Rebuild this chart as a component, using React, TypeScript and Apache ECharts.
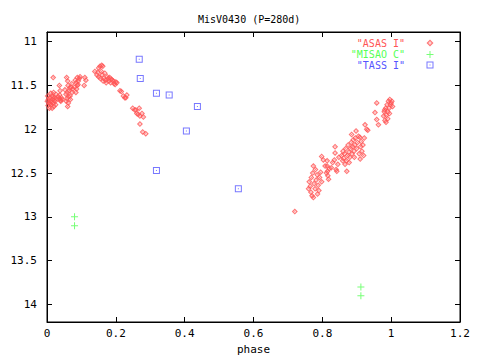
import React, { useEffect, useRef } from "react";
import * as echarts from "echarts";

const titleText = "MisV0430 (P=280d)";
const yTicks = [11, 11.5, 12, 12.5, 13, 13.5, 14];

const asasName = '"ASAS I"';
const misaoName = '"MISAO C"';
const tassName = '"TASS I"';

const asas: [number, number][] = [
  [0.002, 11.62], [0.004, 11.66], [0.006, 11.7], [0.003, 11.73], [0.008, 11.64],
  [0.01, 11.68], [0.012, 11.72], [0.014, 11.62], [0.016, 11.66], [0.018, 11.7],
  [0.02, 11.74], [0.022, 11.64], [0.024, 11.68], [0.026, 11.6], [0.028, 11.65],
  [0.007, 11.76], [0.015, 11.76], [0.011, 11.59], [0.019, 11.58], [0.025, 11.72],
  [0.001, 11.68], [0.013, 11.69], [0.017, 11.63], [0.021, 11.67], [0.009, 11.71],
  [0.018, 11.41], [0.036, 11.5], [0.038, 11.56],
  [0.033, 11.63], [0.036, 11.65], [0.039, 11.67], [0.042, 11.64], [0.037, 11.61],
  [0.04, 11.68], [0.044, 11.66],
  [0.057, 11.41], [0.06, 11.45], [0.052, 11.55], [0.055, 11.6], [0.058, 11.65],
  [0.061, 11.5], [0.064, 11.56], [0.067, 11.62], [0.07, 11.52], [0.073, 11.58],
  [0.056, 11.68], [0.062, 11.7], [0.068, 11.66], [0.072, 11.48], [0.075, 11.54],
  [0.059, 11.58], [0.066, 11.53], [0.063, 11.63], [0.06, 11.74],
  [0.088, 11.41], [0.082, 11.44], [0.085, 11.47], [0.088, 11.5], [0.091, 11.45],
  [0.094, 11.42], [0.08, 11.52], [0.086, 11.54], [0.09, 11.49], [0.096, 11.4],
  [0.084, 11.58],
  [0.11, 11.41], [0.113, 11.44], [0.108, 11.5],
  [0.139, 11.34], [0.15, 11.3], [0.154, 11.28], [0.159, 11.27], [0.162, 11.28],
  [0.145, 11.38], [0.15, 11.4], [0.155, 11.42], [0.16, 11.38], [0.165, 11.42],
  [0.17, 11.44], [0.175, 11.4], [0.18, 11.45], [0.185, 11.47], [0.19, 11.44],
  [0.195, 11.48], [0.2, 11.46], [0.148, 11.35], [0.158, 11.34], [0.168, 11.36],
  [0.178, 11.42], [0.172, 11.47], [0.182, 11.41], [0.187, 11.43], [0.193, 11.45],
  [0.198, 11.49], [0.203, 11.47], [0.163, 11.45],
  [0.212, 11.56], [0.216, 11.57], [0.222, 11.62], [0.226, 11.64], [0.229, 11.64],
  [0.232, 11.61],
  [0.249, 11.76], [0.255, 11.78], [0.258, 11.78], [0.261, 11.82], [0.265, 11.83],
  [0.27, 11.85], [0.268, 11.76], [0.276, 11.82], [0.28, 11.86], [0.27, 11.94],
  [0.278, 12.03], [0.287, 12.05],
  [0.72, 12.94],
  [0.762, 12.6], [0.765, 12.65], [0.767, 12.72], [0.77, 12.76], [0.774, 12.78],
  [0.768, 12.55], [0.772, 12.5], [0.776, 12.62], [0.779, 12.68], [0.774, 12.42],
  [0.782, 12.58], [0.785, 12.52], [0.788, 12.64], [0.792, 12.55], [0.795, 12.49],
  [0.78, 12.46], [0.79, 12.7], [0.76, 12.68], [0.786, 12.74], [0.798, 12.6],
  [0.798, 12.31], [0.803, 12.35], [0.808, 12.42], [0.814, 12.36], [0.814, 12.42],
  [0.815, 12.48], [0.816, 12.53], [0.818, 12.57], [0.812, 12.5], [0.82, 12.45],
  [0.826, 12.44], [0.83, 12.38], [0.835, 12.35], [0.837, 12.2], [0.837, 12.27],
  [0.84, 12.46], [0.842, 12.48], [0.845, 12.4], [0.848, 12.32],
  [0.856, 12.3], [0.86, 12.25], [0.862, 12.33], [0.865, 12.28], [0.868, 12.22],
  [0.87, 12.36], [0.871, 12.48], [0.873, 12.3], [0.875, 12.18], [0.877, 12.26],
  [0.88, 12.32], [0.882, 12.22], [0.884, 12.15], [0.886, 12.28], [0.888, 12.2],
  [0.89, 12.12], [0.892, 12.25], [0.894, 12.18], [0.896, 12.1], [0.898, 12.02],
  [0.9, 12.22], [0.902, 12.15], [0.905, 12.08], [0.907, 12.28], [0.909, 12.09],
  [0.911, 12.2], [0.913, 12.14], [0.915, 12.25], [0.918, 12.18], [0.92, 12.3],
  [0.878, 12.38], [0.866, 12.4], [0.859, 12.36], [0.893, 12.32], [0.885, 12.06],
  [0.91, 12.34], [0.922, 12.1],
  [0.924, 11.95], [0.929, 12.0], [0.932, 12.01], [0.953, 11.81], [0.958, 11.7],
  [0.958, 11.89], [0.963, 11.95],
  [0.978, 11.85], [0.98, 11.8], [0.982, 11.9], [0.984, 11.76], [0.986, 11.84],
  [0.988, 11.72], [0.99, 11.8], [0.992, 11.68], [0.994, 11.76], [0.996, 11.66],
  [0.998, 11.72], [1.0, 11.7], [1.002, 11.68], [0.985, 11.92], [0.99, 11.88],
  [0.995, 11.82], [1.004, 11.74], [0.981, 11.78],
];

const misao: [number, number][] = [
  [0.08, 13.0], [0.08, 13.1], [0.912, 13.8], [0.912, 13.9],
];

const tass: [number, number][] = [
  [0.268, 11.2], [0.271, 11.42], [0.318, 11.59], [0.355, 11.61],
  [0.437, 11.74], [0.405, 12.02], [0.318, 12.47], [0.556, 12.68],
];

const RED = "#ff5555";
const GREEN = "#55ff55";
const BLUE = "#5555ff";
const MONO = "'DejaVu Sans Mono', monospace";

const diamondSym = "path://M3,0L6,3L3,6L0,3Z M3,1.6L1.6,3L3,4.4L4.4,3Z M3,2.3L3.7,3L3,3.7L2.3,3Z";
const plusSym = "path://M3,0h1v3h3v1h-3v3h-1v-3h-3v-1h3z";
const squareSym = "path://M0,0h7v7h-7z M1,1v5h5v-5z M3,3h1v1h-1z";

export default function App() {
  const ref = useRef<HTMLDivElement>(null);
  useEffect(() => {
    if (!ref.current) return;
    const chart = echarts.init(ref.current, undefined, { renderer: "svg" });
    const tickCommon = { show: true, inside: true, length: 5, lineStyle: { color: "#000", width: 1 } };
    const legendBase = {
      orient: "vertical",
      align: "right",
      right: 41.5,
      itemWidth: 7,
      itemHeight: 7,
      symbolKeepAspect: true,
      textStyle: { fontFamily: MONO, fontSize: 10, padding: [0, 16.5, 0, 0] },
    };
    chart.setOption({
      animation: false,
      backgroundColor: "#fff",
      title: {
        text: titleText,
        left: 193,
        top: 9,
        textStyle: { fontFamily: MONO, fontSize: 10, fontWeight: "normal", color: "#000" },
      },
      legend: [
        { ...legendBase, top: 33, data: [{ name: asasName, textStyle: { color: RED } }] },
        { ...legendBase, top: 44.5, data: [{ name: misaoName, textStyle: { color: GREEN } }] },
        { ...legendBase, top: 55, data: [{ name: tassName, textStyle: { color: BLUE } }] },
      ],
      grid: {
        left: 47, right: 20, top: 32, bottom: 34,
        show: true, borderColor: "#000", borderWidth: 1, backgroundColor: "transparent",
      },
      xAxis: [
        {
          type: "value", min: 0, max: 1.2, interval: 0.2, position: "bottom",
          name: "phase", nameLocation: "middle", nameGap: 22,
          nameTextStyle: { fontFamily: MONO, fontSize: 11, color: "#000" },
          axisLine: { show: true, onZero: false, lineStyle: { color: "#000" } },
          axisTick: tickCommon,
          axisLabel: { fontFamily: MONO, fontSize: 11, color: "#000", margin: 6 },
          splitLine: { show: false },
        },
        {
          type: "value", min: 0, max: 1.2, interval: 0.2, position: "top",
          axisLine: { show: true, onZero: false, lineStyle: { color: "#000" } },
          axisTick: tickCommon,
          axisLabel: { show: false },
          splitLine: { show: false },
        },
      ],
      yAxis: [
        {
          type: "value", min: 10.89, max: 14.2, inverse: true, position: "left",
          axisLine: { show: true, onZero: false, lineStyle: { color: "#000" } },
          axisTick: { ...tickCommon, customValues: yTicks },
          axisLabel: { fontFamily: MONO, fontSize: 11, color: "#000", margin: 10, customValues: yTicks },
          splitLine: { show: false },
        },
        {
          type: "value", min: 10.89, max: 14.2, inverse: true, position: "right",
          axisLine: { show: true, onZero: false, lineStyle: { color: "#000" } },
          axisTick: { ...tickCommon, customValues: yTicks },
          axisLabel: { show: false, customValues: yTicks },
          splitLine: { show: false },
        },
      ],
      series: [
        {
          name: asasName, type: "scatter", data: asas, symbol: diamondSym, symbolSize: 6,
          itemStyle: { color: RED }, xAxisIndex: 0, yAxisIndex: 0,
        },
        {
          name: misaoName, type: "scatter", data: misao, symbol: plusSym, symbolSize: 7,
          itemStyle: { color: GREEN }, xAxisIndex: 0, yAxisIndex: 0,
        },
        {
          name: tassName, type: "scatter", data: tass, symbol: squareSym, symbolSize: 7,
          itemStyle: { color: BLUE }, xAxisIndex: 0, yAxisIndex: 0,
        },
      ],
    });
    return () => chart.dispose();
  }, []);
  return <div ref={ref} style={{ width: 480, height: 360, position: "fixed", left: 0, top: 0 }} />;
}
